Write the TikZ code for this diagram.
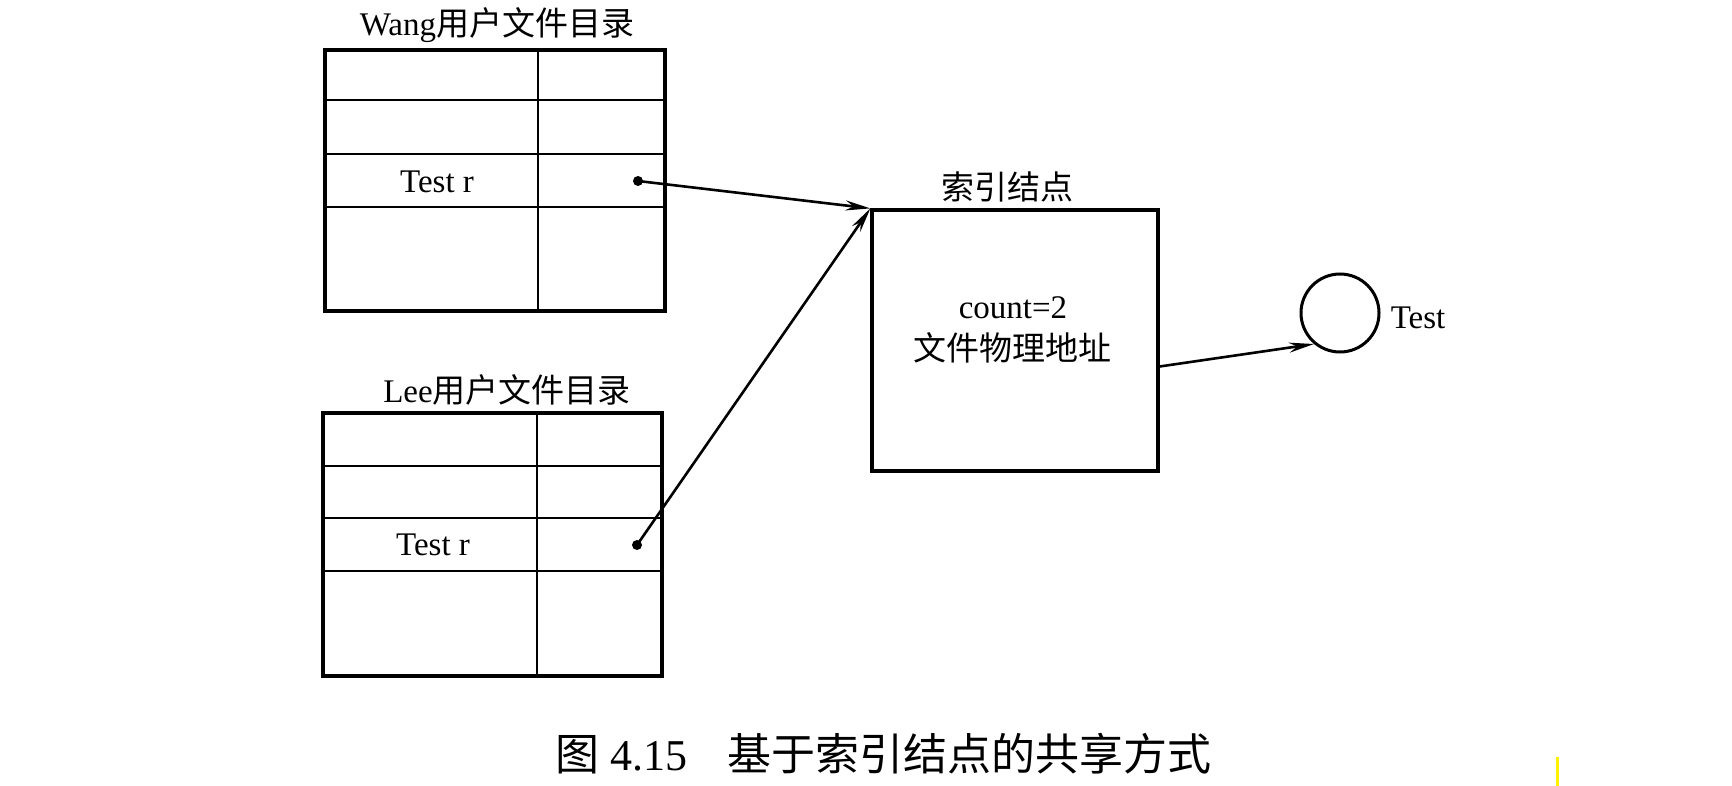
\documentclass[tikz,border=0pt]{standalone}
\usepackage{fontspec}
\setmainfont{Liberation Serif}
\newfontfamily\cjk{Noto Sans CJK SC}
\usetikzlibrary{arrows.meta,calc}
\begin{document}
\begin{tikzpicture}[x=1pt,y=-1pt,
  tbl/.style={draw,line width=3.2pt,rectangle,inner sep=0pt},
  grid/.style={line width=2.5pt},
  txt/.style={font=\fontsize{33}{39}\selectfont,inner sep=0pt},
  conn/.style={line width=2.6pt,-{Stealth[length=25pt,width=10pt]}},
  dotn/.style={circle,fill,inner sep=0pt,minimum size=10pt}]
\useasboundingbox (0,0) rectangle (1732,786);
% Wang table
\node[tbl,minimum width=340pt,minimum height=261pt] (wang) at (495,180.5) {};
\draw[grid] (538,50) -- (538,311);
\draw[grid] (325,100) -- (665,100);
\draw[grid] (325,154) -- (665,154);
\draw[grid] (325,207) -- (665,207);
\node[txt] (wangt) at (497,25) {Wang{\cjk 用户文件目录}};
\node[txt] (wangr) at (437,182) {Test r};
\node[dotn] (wd) at (638,181) {};
% Lee table
\node[tbl,minimum width=339pt,minimum height=263pt] (lee) at (492.5,544.5) {};
\draw[grid] (537,413) -- (537,676);
\draw[grid] (323,466) -- (662,466);
\draw[grid] (323,518) -- (662,518);
\draw[grid] (323,571) -- (662,571);
\node[txt] (leet) at (507,390) {Lee{\cjk 用户文件目录}};
\node[txt] (leer) at (433,545) {Test r};
\node[dotn] (ld) at (637,545) {};
% index node
\node[tbl,minimum width=286pt,minimum height=261pt] (box) at (1015,340.5) {};
\node[txt] (boxt) at (1007,187) {\cjk 索引结点};
\node[txt] (cnt) at (1013,308) {count=2};
\node[txt] (addr) at (1012,348) {\cjk 文件物理地址};
% file
\node[draw,circle,line width=3pt,minimum size=78pt,inner sep=0pt] (c) at (1340,313) {};
\node[txt] (ct) at (1418,318) {Test};
\coordinate (bo) at ($(box.east)+(0,26)$);
% connectors
\draw[conn] (wd.center) -- (box.north west);
\draw[conn] (ld.center) -- (box.north west);
\draw[conn] (bo) -- (c.230);
% caption
\node[inner sep=0pt,font=\fontsize{44}{50}\selectfont] (cap) at (883,754) {{\cjk 图} 4.15\hspace{40pt}{\cjk 基于索引结点的共享方式}};
\draw[yellow,line width=3pt] (1557,757) -- (1557,786);
\end{tikzpicture}
\end{document}
